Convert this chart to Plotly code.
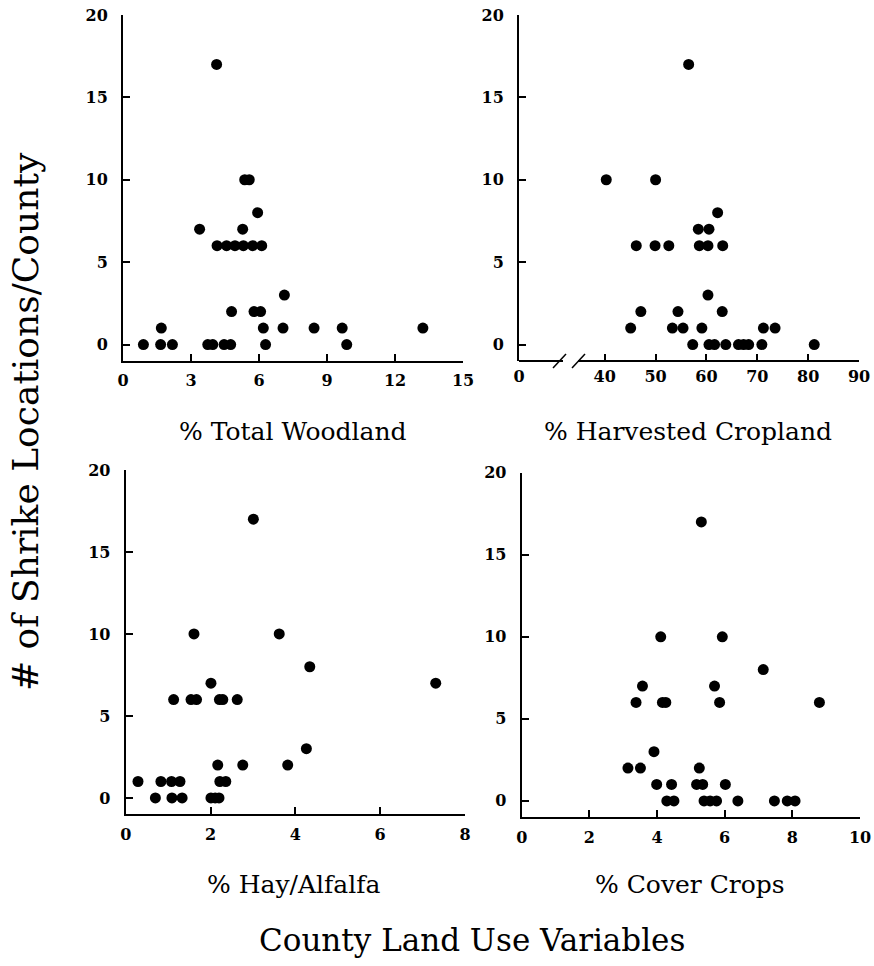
import plotly.graph_objects as go

W, H = 874, 966

# ---------------- data ----------------
wood_x = [4.13, 3.38, 5.28, 5.37, 5.57, 5.94,
          4.15, 4.57, 4.94, 5.31, 5.72, 6.12,
          7.12, 4.79, 5.78, 6.07,
          1.69, 6.19, 7.06, 8.43, 9.67, 13.23,
          0.90, 1.66, 2.18, 3.74, 3.96, 4.46, 4.75, 6.29, 9.87]
wood_y = [17, 7, 7, 10, 10, 8,
          6, 6, 6, 6, 6, 6,
          3, 2, 2, 2,
          1, 1, 1, 1, 1, 1,
          0, 0, 0, 0, 0, 0, 0, 0, 0]

crop_x = [56.5, 40.3, 50.0, 62.2, 58.4, 60.5,
          46.2, 49.9, 52.6, 58.6, 60.3, 63.2,
          60.3, 47.1, 54.4, 63.1,
          45.1, 53.3, 55.4, 59.1, 71.2, 73.5,
          57.3, 60.5, 61.6, 63.8, 66.3, 67.3, 68.3, 70.9, 81.2]
crop_y = [17, 10, 10, 8, 7, 7,
          6, 6, 6, 6, 6, 6,
          3, 2, 2, 2,
          1, 1, 1, 1, 1, 1,
          0, 0, 0, 0, 0, 0, 0, 0, 0]

hay_x = [3.01, 1.61, 3.62, 4.34, 2.01, 7.31,
         1.13, 1.54, 1.67, 2.21, 2.29, 2.63,
         4.26, 2.17, 2.76, 3.82,
         0.29, 0.83, 1.08, 1.28, 2.22, 2.36,
         0.70, 1.09, 1.33, 2.01, 2.11, 2.20]
hay_y = [17, 10, 10, 8, 7, 7,
         6, 6, 6, 6, 6, 6,
         3, 2, 2, 2,
         1, 1, 1, 1, 1, 1,
         0, 0, 0, 0, 0, 0]

cover_x = [5.31, 4.11, 5.93, 7.14, 3.57, 5.70,
           3.38, 4.16, 4.26, 5.85, 8.80,
           3.91, 3.14, 3.51, 5.25,
           3.99, 4.43, 5.17, 5.35, 6.02,
           4.29, 4.50, 5.39, 5.57, 5.76, 6.39, 7.47, 7.85, 8.08]
cover_y = [17, 10, 10, 8, 7, 7,
           6, 6, 6, 6, 6,
           3, 2, 2, 2,
           1, 1, 1, 1, 1,
           0, 0, 0, 0, 0, 0, 0, 0, 0]

y_ticks = [0, 5, 10, 15, 20]
wood_ticks = [0, 3, 6, 9, 12, 15]
crop_ticks = [23.14, 40, 50, 60, 70, 80, 90]
crop_ticktext = ["0", "40", "50", "60", "70", "80", "90"]
hay_ticks = [0, 2, 4, 6, 8]
cover_ticks = [0, 2, 4, 6, 8, 10]

titles = ["% Total Woodland", "% Harvested Cropland", "% Hay/Alfalfa", "% Cover Crops"]

SERIF = "DejaVu Serif"

def px(x):
    return x / W

def py(y):
    return 1 - y / H

fig = go.Figure()
panels = [(wood_x, wood_y), (crop_x, crop_y), (hay_x, hay_y), (cover_x, cover_y)]
for i, (xs, ys) in enumerate(panels):
    sfx = "" if i == 0 else str(i + 1)
    fig.add_trace(go.Scatter(x=xs, y=ys, mode="markers",
                             marker=dict(color="black", size=11),
                             xaxis="x" + sfx, yaxis="y" + sfx,
                             showlegend=False, hoverinfo="skip"))

# domains (pixel geometry)
dom = [
    ((123, 463), (15, 361)),
    ((519, 859), (15, 361)),
    ((125.7, 465), (470, 814.3)),
    ((521.7, 860), (472.7, 817.3)),
]
xranges = [[0, 15], [23.14, 90], [0, 8], [0, 10]]
xtickv = [wood_ticks, crop_ticks, hay_ticks, cover_ticks]
xtickt = [[str(v) for v in wood_ticks], crop_ticktext,
          [str(v) for v in hay_ticks], [str(v) for v in cover_ticks]]

tickfont = dict(family=SERIF, size=16, color="black", weight="bold")
layout = {}
for i in range(4):
    sfx = "" if i == 0 else str(i + 1)
    (x0, x1), (y0, y1) = dom[i]
    layout["xaxis" + sfx] = dict(
        domain=[px(x0), px(x1)], range=xranges[i], anchor="y" + sfx,
        tickmode="array", tickvals=xtickv[i], ticktext=xtickt[i],
        ticks="inside", ticklen=7, tickwidth=1.5, tickcolor="black",
        showline=(i != 1), linecolor="black", linewidth=2,
        showgrid=False, zeroline=False, tickfont=tickfont, ticklabelstandoff=4,
        automargin=False,
    )
    layout["yaxis" + sfx] = dict(
        domain=[py(y1), py(y0)], range=[-1, 20], anchor="x" + sfx,
        tickmode="array", tickvals=y_ticks,
        ticks="inside", ticklen=7, tickwidth=1.5, tickcolor="black",
        showline=True, linecolor="black", linewidth=2,
        showgrid=False, zeroline=False, tickfont=tickfont, ticklabelstandoff=10,
        automargin=False,
    )

shapes = []
ax_y = py(361)
lw = dict(color="black", width=2)
shapes.append(dict(type="line", xref="paper", yref="paper",
                   x0=px(519), x1=px(563), y0=ax_y, y1=ax_y, line=lw))
shapes.append(dict(type="line", xref="paper", yref="paper",
                   x0=px(578), x1=px(859), y0=ax_y, y1=ax_y, line=lw))
shapes.append(dict(type="line", xref="paper", yref="paper",
                   x0=px(553), x1=px(566), y0=py(368), y1=py(354), line=dict(color="black", width=1.5)))
shapes.append(dict(type="line", xref="paper", yref="paper",
                   x0=px(572), x1=px(585), y0=py(368), y1=py(354), line=dict(color="black", width=1.5)))

titlefont = dict(family=SERIF, size=25, color="black")
annotations = []
title_pos = [(293, 431), (688, 431), (293, 884), (690, 884)]
for t, (tx, ty) in zip(titles, title_pos):
    annotations.append(dict(text=t, x=px(tx), y=py(ty), xref="paper", yref="paper",
                            showarrow=False, font=titlefont, xanchor="center", yanchor="middle"))
annotations.append(dict(text="County Land Use Variables", x=px(472), y=py(940),
                        xref="paper", yref="paper", showarrow=False,
                        font=dict(family=SERIF, size=31, color="black"),
                        xanchor="center", yanchor="middle"))
annotations.append(dict(text="# of Shrike Locations/County", x=px(25), y=py(422),
                        xref="paper", yref="paper", showarrow=False, textangle=-90,
                        font=dict(family=SERIF, size=36, color="black"),
                        xanchor="center", yanchor="middle"))

fig.update_layout(width=W, height=H,
                  margin=dict(l=0, r=0, t=0, b=0, pad=0, autoexpand=False),
                  paper_bgcolor="white", plot_bgcolor="white",
                  shapes=shapes, annotations=annotations, **layout)

fig.write_html("out.html", config={"displayModeBar": False},
               post_script="document.body.style.margin='0';document.body.style.overflow='hidden';")
